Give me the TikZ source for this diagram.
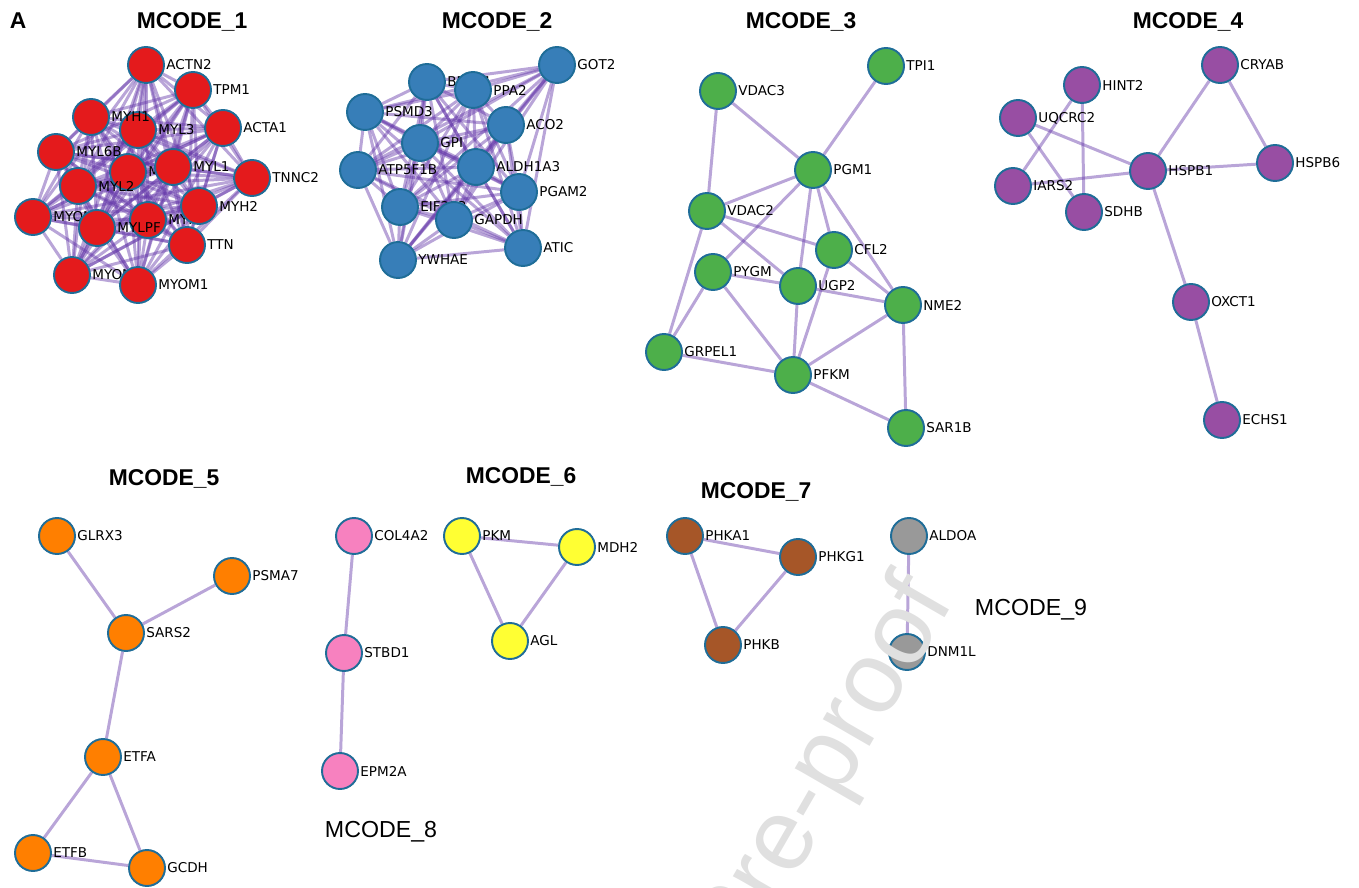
\documentclass[tikz,border=0pt]{standalone}
\usepackage{fontspec}
\setmainfont{DejaVu Sans}
\newfontfamily\arialfont{Liberation Sans}
\usepackage{tikz}
\usetikzlibrary{backgrounds}
\definecolor{rim}{HTML}{1F6D98}
\definecolor{edgec}{RGB}{100,55,169}
\definecolor{cRed}{HTML}{E41A1C}
\definecolor{cBlue}{HTML}{377EB8}
\definecolor{cGreen}{HTML}{4DAF4A}
\definecolor{cPurple}{HTML}{984EA3}
\definecolor{cOrange}{HTML}{FF7F00}
\definecolor{cYellow}{HTML}{FFFF33}
\definecolor{cBrown}{HTML}{A65628}
\definecolor{cPink}{HTML}{F781BF}
\definecolor{cGray}{HTML}{999999}

\begin{document}
\begin{tikzpicture}[x=0.02cm, y=-0.02cm,
    label distance=0.6pt,
    every label/.style={font=\fontsize{7.7}{9}\selectfont, inner sep=0pt, text=black},
    gene/.style={circle, draw=rim, line width=1.1pt, fill=#1, minimum size=0.72cm, inner sep=0pt},
    link/.style={draw=edgec, draw opacity=0.45, line width=1.7pt},
    title/.style={font=\arialfont\bfseries\fontsize{13}{15}\selectfont, anchor=base},
    plaintitle/.style={font=\arialfont\fontsize{13.2}{15}\selectfont, anchor=base}]

    \useasboundingbox (0,0) rectangle (1359,888);

    \node[title] (panel) at (18,29) {A};
    \node[title] (t1) at (192,29) {MCODE\_1};
    \node[title] (t2) at (497,29) {MCODE\_2};
    \node[title] (t3) at (801,29) {MCODE\_3};
    \node[title] (t4) at (1188,29) {MCODE\_4};
    \node[title] (t5) at (164,485) {MCODE\_5};
    \node[title] (t6) at (521,483) {MCODE\_6};
    \node[title] (t7) at (756,498) {MCODE\_7};
    \node[plaintitle] (t8) at (381,837) {MCODE\_8};
    \node[plaintitle] (t9) at (1031,615) {MCODE\_9};

    % MCODE_1
    \node[gene=cRed, label=east:ACTN2] (ACTN2) at (146,65) {};
    \node[gene=cRed, label=east:TPM1] (TPM1) at (193,90) {};
    \node[gene=cRed, label=east:ACTA1] (ACTA1) at (223,128) {};
    \node[gene=cRed, label=east:MYL3] (MYL3) at (138,130) {};
    \node[gene=cRed, label=east:MYH1] (MYH1) at (91,117) {};
    \node[gene=cRed, label=east:MYL6B] (MYL6B) at (56,152) {};
    \node[gene=cRed, label=east:MYH7] (MYH7) at (128,172) {};
    \node[gene=cRed, label=east:MYL1] (MYL1) at (173,167) {};
    \node[gene=cRed, label=east:TNNC2] (TNNC2) at (252,178) {};
    \node[gene=cRed, label=east:MYL2] (MYL2) at (78,186) {};
    \node[gene=cRed, label=east:MYOM3] (MYOM3) at (33,217) {};
    \node[gene=cRed, label=east:MYH4] (MYH4) at (148,220) {};
    \node[gene=cRed, label=east:MYLPF] (MYLPF) at (97,228) {};
    \node[gene=cRed, label=east:MYH2] (MYH2) at (199,206) {};
    \node[gene=cRed, label=east:TTN] (TTN) at (187,245) {};
    \node[gene=cRed, label=east:MYOM2] (MYOM2) at (72,275) {};
    \node[gene=cRed, label=east:MYOM1] (MYOM1) at (138,285) {};

    % MCODE_2
    \node[gene=cBlue, label=east:GOT2] (GOT2) at (557,65) {};
    \node[gene=cBlue, label=east:BPNT1] (BPNT1) at (427,82) {};
    \node[gene=cBlue, label=east:PPA2] (PPA2) at (473,90) {};
    \node[gene=cBlue, label=east:PSMD3] (PSMD3) at (365,112) {};
    \node[gene=cBlue, label=east:ACO2] (ACO2) at (506,125) {};
    \node[gene=cBlue, label=east:GPI] (GPI) at (420,143) {};
    \node[gene=cBlue, label=east:ATP5F1B] (ATP5F1B) at (358,170) {};
    \node[gene=cBlue, label=east:ALDH1A3] (ALDH1A3) at (476,167) {};
    \node[gene=cBlue, label=east:PGAM2] (PGAM2) at (519,192) {};
    \node[gene=cBlue, label=east:EIF2S3] (EIF2S3) at (400,207) {};
    \node[gene=cBlue, label=east:GAPDH] (GAPDH) at (454,220) {};
    \node[gene=cBlue, label=east:ATIC] (ATIC) at (523,248) {};
    \node[gene=cBlue, label=east:YWHAE] (YWHAE) at (398,260) {};

    % MCODE_3
    \node[gene=cGreen, label=east:TPI1] (TPI1) at (886,66) {};
    \node[gene=cGreen, label=east:VDAC3] (VDAC3) at (718,91) {};
    \node[gene=cGreen, label=east:PGM1] (PGM1) at (813,170) {};
    \node[gene=cGreen, label=east:VDAC2] (VDAC2) at (707,211) {};
    \node[gene=cGreen, label=east:CFL2] (CFL2) at (834,250) {};
    \node[gene=cGreen, label=east:PYGM] (PYGM) at (713,272) {};
    \node[gene=cGreen, label=east:UGP2] (UGP2) at (798,286) {};
    \node[gene=cGreen, label=east:NME2] (NME2) at (903,305) {};
    \node[gene=cGreen, label=east:GRPEL1] (GRPEL1) at (664,352) {};
    \node[gene=cGreen, label=east:PFKM] (PFKM) at (793,375) {};
    \node[gene=cGreen, label=east:SAR1B] (SAR1B) at (906,428) {};

    % MCODE_4
    \node[gene=cPurple, label=east:HINT2] (HINT2) at (1082,85) {};
    \node[gene=cPurple, label=east:CRYAB] (CRYAB) at (1220,65) {};
    \node[gene=cPurple, label=east:UQCRC2] (UQCRC2) at (1018,118) {};
    \node[gene=cPurple, label=east:HSPB1] (HSPB1) at (1148,171) {};
    \node[gene=cPurple, label=east:HSPB6] (HSPB6) at (1275,163) {};
    \node[gene=cPurple, label=east:IARS2] (IARS2) at (1013,186) {};
    \node[gene=cPurple, label=east:SDHB] (SDHB) at (1084,212) {};
    \node[gene=cPurple, label=east:OXCT1] (OXCT1) at (1191,302) {};
    \node[gene=cPurple, label=east:ECHS1] (ECHS1) at (1222,420) {};

    % MCODE_5
    \node[gene=cOrange, label=east:GLRX3] (GLRX3) at (57,536) {};
    \node[gene=cOrange, label=east:PSMA7] (PSMA7) at (232,576) {};
    \node[gene=cOrange, label=east:SARS2] (SARS2) at (126,633) {};
    \node[gene=cOrange, label=east:ETFA] (ETFA) at (103,757) {};
    \node[gene=cOrange, label=east:ETFB] (ETFB) at (33,853) {};
    \node[gene=cOrange, label=east:GCDH] (GCDH) at (147,868) {};

    % MCODE_8, MCODE_6, MCODE_7, MCODE_9
    \node[gene=cPink, label=east:COL4A2] (COL4A2) at (354,536) {};
    \node[gene=cPink, label=east:STBD1] (STBD1) at (344,653) {};
    \node[gene=cPink, label=east:EPM2A] (EPM2A) at (340,771) {};
    \node[gene=cYellow, label=east:PKM] (PKM) at (462,536) {};
    \node[gene=cYellow, label=east:MDH2] (MDH2) at (577,547) {};
    \node[gene=cYellow, label=east:AGL] (AGL) at (510,641) {};
    \node[gene=cBrown, label=east:PHKA1] (PHKA1) at (685,536) {};
    \node[gene=cBrown, label=east:PHKG1] (PHKG1) at (798,557) {};
    \node[gene=cBrown, label=east:PHKB] (PHKB) at (723,645) {};
    \node[gene=cGray, label=east:ALDOA] (ALDOA) at (909,536) {};
    \node[gene=cGray, label=east:DNM1L] (DNM1L) at (907,652) {};

    \begin{pgfonlayer}{background}
        \foreach \a [count=\i] in {ACTN2,TPM1,ACTA1,MYL3,MYH1,MYL6B,MYH7,MYL1,TNNC2,MYL2,MYOM3,MYH4,MYLPF,MYH2,TTN,MYOM2,MYOM1}
            \foreach \b [count=\j] in {ACTN2,TPM1,ACTA1,MYL3,MYH1,MYL6B,MYH7,MYL1,TNNC2,MYL2,MYOM3,MYH4,MYLPF,MYH2,TTN,MYOM2,MYOM1}
                {\ifnum\j>\i \draw[link] (\a) -- (\b); \fi}
        \foreach \a [count=\i] in {GOT2,BPNT1,PPA2,PSMD3,ACO2,GPI,ATP5F1B,ALDH1A3,PGAM2,EIF2S3,GAPDH,ATIC,YWHAE}
            \foreach \b [count=\j] in {GOT2,BPNT1,PPA2,PSMD3,ACO2,GPI,ATP5F1B,ALDH1A3,PGAM2,EIF2S3,GAPDH,ATIC,YWHAE}
                {\ifnum\j>\i \draw[link] (\a) -- (\b); \fi}
        \foreach \a/\b in {TPI1/PGM1, VDAC3/PGM1, VDAC3/VDAC2, VDAC2/PGM1, PGM1/PYGM, PGM1/UGP2,
                PGM1/CFL2, PGM1/NME2, VDAC2/CFL2, VDAC2/UGP2, VDAC2/GRPEL1, PYGM/UGP2, PYGM/GRPEL1,
                PYGM/PFKM, UGP2/PFKM, UGP2/NME2, CFL2/PFKM, CFL2/NME2, NME2/PFKM, NME2/SAR1B,
                GRPEL1/PFKM, PFKM/SAR1B,
                HINT2/IARS2, HINT2/SDHB, UQCRC2/SDHB, UQCRC2/HSPB1, IARS2/HSPB1, HSPB1/CRYAB,
                HSPB1/HSPB6, CRYAB/HSPB6, HSPB1/OXCT1, OXCT1/ECHS1,
                GLRX3/SARS2, PSMA7/SARS2, SARS2/ETFA, ETFA/ETFB, ETFA/GCDH, ETFB/GCDH,
                COL4A2/STBD1, STBD1/EPM2A, PKM/MDH2, PKM/AGL, MDH2/AGL,
                PHKA1/PHKG1, PHKA1/PHKB, PHKG1/PHKB, ALDOA/DNM1L}
            \draw[link] (\a) -- (\b);
    \end{pgfonlayer}

    \begin{scope}
        \clip (0,0) rectangle (1359,888);
        \node[rotate=60, anchor=base east, inner sep=0pt, text=black!12,
            font=\arialfont\fontsize{58}{58}\selectfont] (mark) at (955,600) {Journal Pre-proof};
    \end{scope}
\end{tikzpicture}
\end{document}
